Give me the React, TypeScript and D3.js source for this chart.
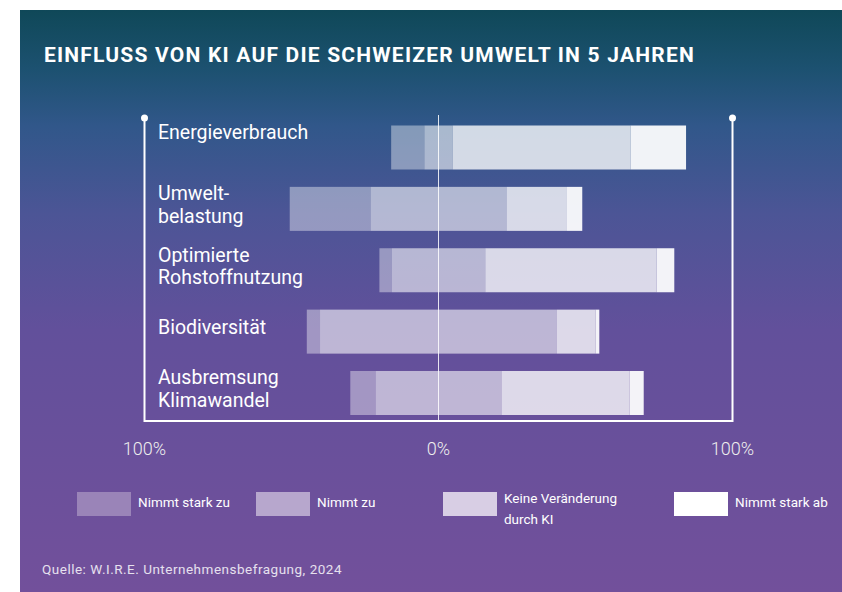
import React from 'react';
import * as d3 from 'd3';

// survey shares in % per category
const categories = ['Energieverbrauch', 'Umweltbelastung', 'Optimierte Rohstoffnutzung', 'Biodiversität', 'Ausbremsung Klimawandel'];
const labelLines = [['Energieverbrauch', ''], ['Umwelt-', 'belastung'], ['Optimierte', 'Rohstoffnutzung'], ['Biodiversität'], ['Ausbremsung', 'Klimawandel']];
const seriesNames = ['Nimmt stark zu', 'Nimmt zu', 'Keine Veränderung durch KI', 'Nimmt stark ab'];
const starkZu = [11.3, 27.5, 4.2, 4.5, 8.6];
const zu = [9.6, 46.2, 31.8, 80.6, 42.8];
const keine = [60.5, 20.6, 58.3, 13.1, 43.6];
const starkAb = [18.9, 5.2, 6.0, 1.3, 4.8];
const tickValues = [-100, 0, 100];
const tickLabels = ['100%', '0%', '100%'];

const W = 842;
const H = 592;
const barOpacity = [0.4, 0.58, 0.78, 0.93];
const legendColors = ['#9a84b8', '#b7a7cd', '#d8cee4', '#ffffff'];
const legendX = [77, 256, 443, 674];
const font = 'Roboto, "Noto Sans", sans-serif';

const App = () => {
  const rows = categories.map((c, i) => ({ cat: c, s0: starkZu[i], s1: zu[i], s2: keine[i], s3: starkAb[i] }));
  const keys = ['s0', 's1', 's2', 's3'];
  const stacked = d3.stack<any>().keys(keys)(rows);

  const x = d3.scaleLinear().domain([-100, 100]).range([144.5, 732.5]);
  const y = d3.scaleBand().domain(categories).range([125.5, 415]).paddingInner(0.283).paddingOuter(0);

  // "Nimmt zu" segment centred on 0
  const shift = (i: number) => -(starkZu[i] + zu[i] / 2);

  const top = 118;
  const bottom = 421;

  return (
    <svg width={W} height={H} style={{ position: 'absolute', left: 0, top: 0 }} fontFamily={font}>
      <defs>
        <linearGradient id="bg" x1="0" y1="0" x2="0" y2="1">
          <stop offset="0" stopColor="#0f4858" />
          <stop offset="0.1" stopColor="#1c5170" />
          <stop offset="0.2" stopColor="#31578a" />
          <stop offset="0.35" stopColor="#4c5596" />
          <stop offset="0.55" stopColor="#62509b" />
          <stop offset="1" stopColor="#72509b" />
        </linearGradient>
        <filter id="soft" x="-5%" y="-10%" width="110%" height="120%">
          <feGaussianBlur stdDeviation="0.7" />
        </filter>
      </defs>
      <rect x={0} y={0} width={W} height={H} fill="#fff" />
      <rect x={20} y={10} width={W - 20} height={H - 10} fill="url(#bg)" />

      <text x={44} y={62} fill="#fff" fontSize={21} fontWeight={700} letterSpacing={1.2}>
        EINFLUSS VON KI AUF DIE SCHWEIZER UMWELT IN 5 JAHREN
      </text>

      {/* frame */}
      <g stroke="#fff" strokeWidth={2} fill="none">
        <path d={`M${x(-100)},${top} V${bottom} H${x(100)} V${top}`} />
      </g>
      <circle cx={x(-100)} cy={top} r={3.5} fill="#fff" />
      <circle cx={x(100)} cy={top} r={3.5} fill="#fff" />

      {/* bars */}
      <g filter="url(#soft)">
        {stacked.map((layer, k) =>
          layer.map((d, i) => (
            <rect
              key={`${k}-${i}`}
              x={x(d[0] + shift(i))}
              width={x(d[1] + shift(i)) - x(d[0] + shift(i))}
              y={y(categories[i])}
              height={y.bandwidth()}
              fill="#fff"
              fillOpacity={barOpacity[k]}
            />
          ))
        )}
      </g>

      <line x1={x(0)} x2={x(0)} y1={115} y2={bottom} stroke="#fff" strokeOpacity={0.85} strokeWidth={1} />

      {/* category labels */}
      {labelLines.map((lines, i) => {
        const cy = (y(categories[i]) as number) + y.bandwidth() / 2;
        const first = lines.length > 1 ? cy - 8.5 : cy + 2;
        return (
          <text key={i} x={158} fill="#fff" fontSize={19.5}>
            {lines.map((l, j) => (
              <tspan key={j} x={158} y={first + j * 22.5}>{l}</tspan>
            ))}
          </text>
        );
      })}

      {/* axis ticks */}
      {tickValues.map((v, i) => (
        <text key={i} x={x(v)} y={455} fill="#eee" fontSize={18} fontWeight={300} textAnchor="middle">
          {tickLabels[i]}
        </text>
      ))}

      {/* legend */}
      {seriesNames.map((n, i) => {
        const lines = n === 'Keine Veränderung durch KI' ? ['Keine Veränderung', 'durch KI'] : [n];
        return (
          <g key={n}>
            <rect x={legendX[i]} y={492} width={54} height={24} fill={legendColors[i]} />
            <text fill="#fff" fontSize={13.5}>
              {lines.map((l, j) => (
                <tspan key={j} x={legendX[i] + 61} y={(lines.length > 1 ? 503 : 507) + j * 21}>{l}</tspan>
              ))}
            </text>
          </g>
        );
      })}

      <text x={42} y={574} fill="#e6e0ee" fontSize={13.5} letterSpacing={0.5}>
        Quelle: W.I.R.E. Unternehmensbefragung, 2024
      </text>
    </svg>
  );
};

export default App;
